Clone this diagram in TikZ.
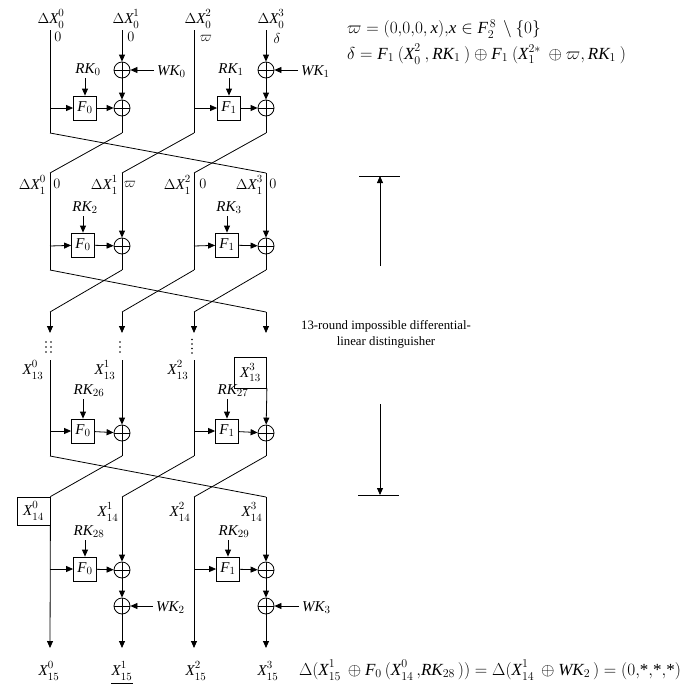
\documentclass[tikz,border=0pt]{standalone}
\usepackage{fontspec}
\setmainfont{Liberation Serif}
\usetikzlibrary{arrows.meta}
\newcommand{\iX}{\mathit{X}}
\newcommand{\iF}{\mathit{F}}
\newcommand{\iRK}{\mathit{RK}}
\newcommand{\iWK}{\mathit{WK}}
\newcommand{\gap}{\mkern3mu}
\newcommand{\ggap}{\mkern4mu}
% X with well separated sub- and superscript
\newcommand{\Xs}[2]{\iX^{\raisebox{1.5pt}{$\scriptstyle #2$}}_{\raisebox{-1pt}{$\scriptstyle #1$}}}
\newcommand{\st}{\mbox{*}}
\tikzset{
  wire/.style={line width=0.8pt},
  arr/.style={line width=0.8pt,-{Triangle[length=7pt,width=6pt]}},
  xor/.style={circle,draw,line width=0.8pt,minimum size=16pt,inner sep=0pt,
    path picture={\draw[line width=0.8pt] (path picture bounding box.north) -- (path picture bounding box.south)
      (path picture bounding box.west) -- (path picture bounding box.east);}},
  fbox/.style={draw,line width=0.8pt,minimum width=23pt,minimum height=24pt,inner sep=0pt,font=\fontsize{15}{17}\selectfont},
  lbl/.style={inner sep=0pt,font=\fontsize{15}{17}\selectfont},
  eqn/.style={inner sep=0pt,font=\fontsize{17}{19}\selectfont},
  vbox/.style={draw,line width=0.8pt,inner sep=0pt,font=\fontsize{15}{17}\selectfont},
  dotc/.style={fill,circle,inner sep=0pt,minimum size=1.6pt},
}
\begin{document}
\begin{tikzpicture}[x=1pt,y=-1pt]
\useasboundingbox (0,0) rectangle (694,686);
% ---------------- round 0 ----------------
\node[lbl] (L00) at (51,19) {$\Delta \Xs{0}{0}$};
\node[lbl] (L01) at (126,19) {$\Delta \Xs{0}{1}$};
\node[lbl] (L02) at (198,19) {$\Delta \Xs{0}{2}$};
\node[lbl] (L03) at (271,19) {$\Delta \Xs{0}{3}$};
\node[lbl] (v00) at (58,37) {$0$};
\node[lbl] (v01) at (131,37) {$0$};
\node[lbl] (v02) at (206,38.5) {$\varpi$};
\node[lbl] (v03) at (277,38) {$\delta$};
\coordinate (a0) at (50,30); \coordinate (a1) at (122,30);
\coordinate (a2) at (194,30); \coordinate (a3) at (266,30);
\node[xor] (w1) at (122,70) {};
\node[xor] (w3) at (266,70) {};
\node[xor] (p1) at (122,108) {};
\node[xor] (p3) at (266,108) {};
\node[fbox] (F0a) at (85,108) {$\iF_0$};
\node[fbox] (F1a) at (229,108) {$\iF_1$};
\node[lbl] (RK0) at (88,70) {$\iRK_0$};
\node[lbl] (RK1) at (231,70) {$\iRK_1$};
\node[lbl,anchor=west] (WK0) at (157,72) {$\iWK_0$};
\node[lbl,anchor=west] (WK1) at (301,72) {$\iWK_1$};
\coordinate (b0) at (50,108); \coordinate (b2) at (194,108);
\coordinate (e0) at (50,133); \coordinate (e1) at (122,133);
\coordinate (e2) at (194,133); \coordinate (e3) at (266,133);
\draw[wire] (a0) -- (e0);
\draw[arr] (a1) -- (w1); \draw[arr] (w1) -- (p1); \draw[wire] (p1) -- (e1);
\draw[wire] (a2) -- (e2);
\draw[arr] (a3) -- (w3); \draw[arr] (w3) -- (p3); \draw[wire] (p3) -- (e3);
\draw[arr] (b0) -- (F0a); \draw[arr] (F0a) -- (p1);
\draw[arr] (b2) -- (F1a); \draw[arr] (F1a) -- (p3);
\draw[arr] ([yshift=-2pt]F0a.north |- RK0.south) -- (F0a.north);
\draw[arr] ([yshift=-2pt]F1a.north |- RK1.south) -- (F1a.north);
\draw[arr] ([xshift=-3pt]w1 -| WK0.west) -- (w1);
\draw[arr] ([xshift=-3pt]w3 -| WK1.west) -- (w3);
% swap 0
\coordinate (f0) at (50,173); \coordinate (f1) at (122,173);
\coordinate (f2) at (194,173); \coordinate (f3) at (266,173);
\draw[wire] (e0) -- (f3); \draw[wire] (e1) -- (f0);
\draw[wire] (e2) -- (f1); \draw[wire] (e3) -- (f2);
% ---------------- round 1 ----------------
\node[lbl,anchor=east] (L10) at (46,185) {$\Delta \Xs{1}{0}$};
\node[lbl] (v10) at (57,184) {$0$};
\node[lbl,anchor=east] (L11) at (118,185) {$\Delta \Xs{1}{1}$};
\node[lbl] (v11) at (130,184) {$\varpi$};
\node[lbl,anchor=east] (L12) at (191,185) {$\Delta \Xs{1}{2}$};
\node[lbl] (v12) at (203,184) {$0$};
\node[lbl,anchor=east] (L13) at (263,185) {$\Delta \Xs{1}{3}$};
\node[lbl] (v13) at (273,184) {$0$};
\node[lbl] (RK2) at (85,208) {$\iRK_2$};
\node[lbl] (RK3) at (229,208) {$\iRK_3$};
\node[fbox] (F0b) at (83,245) {$\iF_0$};
\node[fbox] (F1b) at (227,245) {$\iF_1$};
\node[xor] (q1) at (122,246) {};
\node[xor] (q3) at (266,246) {};
\coordinate (c0) at (50,246); \coordinate (c2) at (194,246);
\coordinate (g0) at (50,270); \coordinate (g1) at (122,270);
\coordinate (g2) at (194,270); \coordinate (g3) at (266,270);
\draw[wire] (f0) -- (g0);
\draw[arr] (f1) -- (q1); \draw[wire] (q1) -- (g1);
\draw[wire] (f2) -- (g2);
\draw[arr] (f3) -- (q3); \draw[wire] (q3) -- (g3);
\draw[arr] (c0) -- (F0b); \draw[arr] (F0b) -- (q1);
\draw[arr] (c2) -- (F1b); \draw[arr] (F1b) -- (q3);
\draw[arr] ([yshift=-2pt]F0b.north |- RK2.south) -- (F0b.north);
\draw[arr] ([yshift=-2pt]F1b.north |- RK3.south) -- (F1b.north);
% swap 1
\coordinate (h0) at (50,312); \coordinate (h1) at (122,312);
\coordinate (h2) at (194,312); \coordinate (h3) at (266,312);
\coordinate (i0) at (50,333); \coordinate (i1) at (122,333);
\coordinate (i2) at (194,333); \coordinate (i3) at (266,333);
\draw[wire] (g0) -- (h3); \draw[wire] (g1) -- (h0);
\draw[wire] (g2) -- (h1); \draw[wire] (g3) -- (h2);
\draw[arr] (h0) -- (i0); \draw[arr] (h1) -- (i1);
\draw[arr] (h2) -- (i2); \draw[arr] (h3) -- (i3);
% dots
\foreach \yy in {342,347,352}{
  \node[dotc] at (46,\yy) {}; \node[dotc] at (51,\yy) {};
  \node[dotc] at (120,\yy) {};
}
\foreach \yy in {339.5,344,348.5,353}{ \node[dotc] at (192,\yy) {}; }
% ---------------- round 13 ----------------
\coordinate (j0) at (50,360); \coordinate (j1) at (122,360);
\coordinate (j2) at (194,360); \coordinate (j3) at (266,360);
\node[lbl] (L130) at (33,370) {$\Xs{13}{0}$};
\node[lbl] (L131) at (105,370) {$\Xs{13}{1}$};
\node[lbl] (L132) at (178,370) {$\Xs{13}{2}$};
\node[vbox,minimum width=32pt,minimum height=31pt] (L133) at (250.5,372.5) {$\Xs{13}{3}$};
\node[lbl] (RK26) at (89,391) {$\iRK_{26}$};
\node[lbl] (RK27) at (233,391) {$\iRK_{27}$};
\node[fbox] (F0c) at (83,431) {$\iF_0$};
\node[fbox] (F1c) at (227,431) {$\iF_1$};
\node[xor] (r1) at (122,433) {};
\node[xor] (r3) at (266,433) {};
\coordinate (d0) at (50,431); \coordinate (d2) at (194,431);
\coordinate (k0) at (50,456); \coordinate (k1) at (122,456);
\coordinate (k2) at (194,456); \coordinate (k3) at (266,456);
\draw[wire] (j0) -- (k0);
\draw[arr] (j1) -- (r1); \draw[wire] (r1) -- (k1);
\draw[wire] (j2) -- (k2);
\draw[arr] (L133.south east) -- (r3); \draw[wire] (r3) -- (k3);
\draw[arr] (d0) -- (F0c); \draw[arr] (F0c) -- (r1);
\draw[arr] (d2) -- (F1c); \draw[arr] (F1c) -- (r3);
\draw[arr] ([yshift=-2pt]F0c.north |- RK26.south) -- (F0c.north);
\draw[arr] ([yshift=-2pt]F1c.north |- RK27.south) -- (F1c.north);
% ---------------- round 14 ----------------
\node[vbox,minimum width=33pt,minimum height=28pt] (L140) at (33.5,511) {$\Xs{14}{0}$};
\coordinate (m1) at (122,497); \coordinate (m2) at (194,497); \coordinate (m3) at (266,497);
\draw[wire] (k0) -- (m3); \draw[wire] (k1) -- (L140.north east);
\draw[wire] (k2) -- (m1); \draw[wire] (k3) -- (m2);
\node[lbl] (L141) at (108,512) {$\Xs{14}{1}$};
\node[lbl] (L142) at (180,512) {$\Xs{14}{2}$};
\node[lbl] (L143) at (252,512) {$\Xs{14}{3}$};
\node[lbl] (RK28) at (89,532) {$\iRK_{28}$};
\node[lbl] (RK29) at (234,532) {$\iRK_{29}$};
\node[fbox] (F0d) at (85,569) {$\iF_0$};
\node[fbox] (F1d) at (228,569) {$\iF_1$};
\node[xor] (s1) at (122,570) {};
\node[xor] (s3) at (266,570) {};
\node[xor] (u1) at (122,606) {};
\node[xor] (u3) at (266,606) {};
\node[lbl,anchor=west] (WK2) at (156,608) {$\iWK_2$};
\node[lbl,anchor=west] (WK3) at (302,608) {$\iWK_3$};
\coordinate (n0) at (50,569); \coordinate (n2) at (194,569);
\coordinate (o0) at (50,648); \coordinate (o1) at (122,648);
\coordinate (o2) at (194,648); \coordinate (o3) at (266,648);
\draw[arr] (L140.south east) -- (o0);
\draw[arr] (m1) -- (s1); \draw[arr] (s1) -- (u1); \draw[arr] (u1) -- (o1);
\draw[arr] (m2) -- (o2);
\draw[arr] (m3) -- (s3); \draw[arr] (s3) -- (u3); \draw[arr] (u3) -- (o3);
\draw[arr] (n0) -- (F0d); \draw[arr] (F0d) -- (s1);
\draw[arr] (n2) -- (F1d); \draw[arr] (F1d) -- (s3);
\draw[arr] ([yshift=-2pt]F0d.north |- RK28.south) -- (F0d.north);
\draw[arr] ([yshift=-2pt]F1d.north |- RK29.south) -- (F1d.north);
\draw[arr] ([xshift=-3pt]u1 -| WK2.west) -- (u1);
\draw[arr] ([xshift=-3pt]u3 -| WK3.west) -- (u3);
\node[lbl] (L150) at (49,671) {$\Xs{15}{0}$};
\node[lbl] (L151) at (122,671) {$\Xs{15}{1}$};
\node[lbl] (L152) at (196,671) {$\Xs{15}{2}$};
\node[lbl] (L153) at (268,671) {$\Xs{15}{3}$};
\draw[line width=0.6pt] ([yshift=-3pt]L151.south west) -- ([yshift=-3pt]L151.south east);
% ---------------- equations ----------------
\node[eqn,anchor=west] (eq1) at (347,29) {$\varpi=(0{,}0{,}0{,}\,\mathit{x}){,}\mathit{x}\in \iF_2^{\,8}\gap\setminus\{0\}$};
\node[eqn,anchor=west] (eq2) at (347,54) {$\delta=\iF_1\ggap(\Xs{0}{2}\ggap, \iRK_1\ggap)\oplus \iF_1\ggap(\iX_1^{2*}\ggap\oplus\varpi, \iRK_1\ggap)$};
\node[eqn] (eq3) at (490,670) {$\Delta(\Xs{15}{1}\gap\oplus \iF_0\gap(\Xs{14}{0}\gap{,}\iRK_{28}\gap))=\Delta(\Xs{14}{1}\gap\oplus \iWK_2\gap)=(0{,}\st{,}\st{,}\st)$};
% ---------------- distinguisher ----------------
\node[inner sep=0pt,align=center,font=\fontsize{12.8}{16}\selectfont] (dist) at (386,334) {13-round impossible differential-\\linear distinguisher};
\coordinate (tb1) at (359,176); \coordinate (tb2) at (400,176);
\coordinate (tt) at (380,176); \coordinate (ta) at (380,266);
\coordinate (bb1) at (358,495); \coordinate (bb2) at (399,495);
\coordinate (bt) at (380,495); \coordinate (ba) at (380,404);
\draw[wire] (tb1) -- (tb2);
\draw[wire] (bb1) -- (bb2);
\draw[arr] (ta) -- (tt);
\draw[arr] (ba) -- (bt);
\end{tikzpicture}
\end{document}
